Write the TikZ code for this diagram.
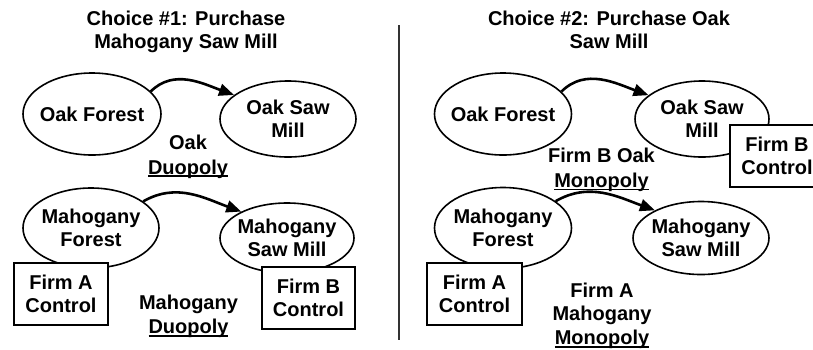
\documentclass[tikz,border=0pt]{standalone}
\usepackage{fontspec}
\setmainfont{Liberation Sans}
\usetikzlibrary{shapes.geometric,arrows.meta}
\newcommand\myul[1]{\setbox0\hbox{#1}\rlap{\rule[-2.8pt]{\wd0}{1.6pt}}\box0}
\begin{document}
\begin{tikzpicture}[x=1pt,y=-1pt,
  every node/.style={font=\bfseries\fontsize{20}{23}\selectfont, align=center},
  oval/.style={draw, line width=1.6pt, ellipse, inner xsep=-20pt, inner ysep=0pt},
  firmbox/.style={draw, line width=2pt, fill=white, rectangle, inner sep=0pt,
                  minimum width=94pt, minimum height=62pt},
  lbl/.style={anchor=north, inner sep=0pt},
  flow/.style={line width=2.6pt, -{Triangle[length=15pt,width=12pt]}},
]
\useasboundingbox (0,0) rectangle (813,349);

% titles
\node[lbl] (t1) at (186,10.5) {Choice \#1: Purchase\\Mahogany Saw Mill};
\node[lbl] (t2) at (609,10.5) {Choice \#2: Purchase Oak\\Saw Mill};

% divider
\coordinate (dtop) at (399,25);
\coordinate (dbot) at (399,340);
\draw[line width=1.5pt, black!80] (dtop) -- (dbot);

% left panel
\node[oval, minimum width=138pt, minimum height=82pt] (lof) at (92,114) {Oak Forest};
\node[oval, minimum width=136pt, minimum height=76pt] (lom) at (288,119) {Oak Saw\\Mill};
\node[oval, minimum width=136pt, minimum height=80pt] (lmf) at (91,228) {Mahogany\\Forest};
\node[oval, minimum width=134pt, minimum height=70pt] (lmm) at (287,238) {Mahogany\\Saw Mill};
\draw[flow] (lof.21) to[out=45,in=160] (lom.156);
\draw[flow] (lmf.27) to[out=30,in=160] (lmm.150);
\node[firmbox] (lfa) at (61,294) {Firm A\\Control};
\node[firmbox, minimum width=93pt] (lfb) at (308.5,298) {Firm B\\Control};
\node[lbl] (lod) at (188,134.5) {Oak\\[2pt]\myul{Duopoly}};
\node[lbl] (lmd) at (188.5,295) {Mahogany\\[1pt]\myul{Duopoly}};

% right panel
\node[oval, minimum width=137pt, minimum height=82pt] (rof) at (503,114) {Oak Forest};
\node[oval, minimum width=134pt, minimum height=76pt] (rom) at (702,119) {Oak Saw\\Mill};
\node[oval, minimum width=137pt, minimum height=81pt] (rmf) at (503,228) {Mahogany\\Forest};
\node[oval, minimum width=136pt, minimum height=73pt] (rmm) at (701,238) {Mahogany\\Saw Mill};
\draw[flow] (rof.21) to[out=45,in=160] (rom.156);
\draw[flow] (rmf.27) to[out=30,in=160] (rmm.149);
\node[firmbox, minimum width=95pt] (rfa) at (474.5,294) {Firm A\\Control};
\node[firmbox] (rfb) at (777,156) {Firm B\\Control};
\node[lbl] (rom2) at (601.5,148) {Firm B Oak\\[2pt]\myul{Monopoly}};
\node[lbl] (rmm2) at (602,283) {Firm A\\Mahogany\\[1pt]\myul{Monopoly}};
\end{tikzpicture}
\end{document}
